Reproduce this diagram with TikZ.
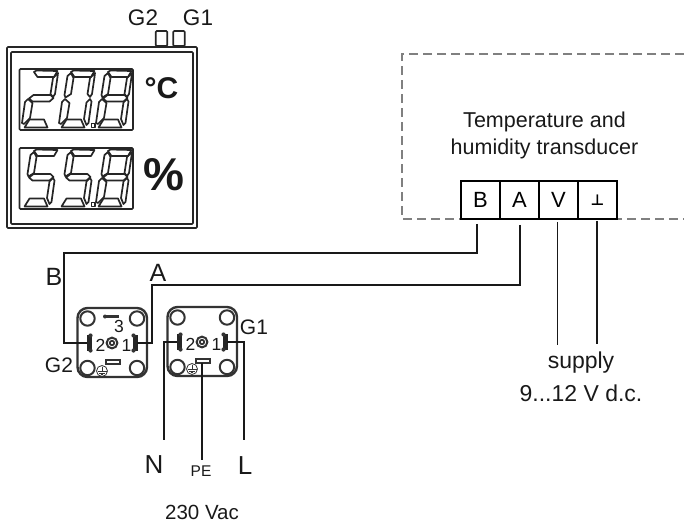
\documentclass[tikz,border=0pt]{standalone}
\usepackage{fontspec}
\setmainfont{Liberation Sans}
\newfontfamily\symbolfont{DejaVu Sans}
\newcommand{\txtsize}[1]{\fontsize{#1}{#1}\selectfont}
\tikzstyle{wire}=[line width=1.6pt,black!90]
\tikzstyle{panel}=[line width=1.6pt,black!85,rounded corners=1pt]
\tikzstyle{segline}=[line width=1.7pt,black!85,line join=round]
\tikzstyle{terminal}=[draw,line width=1.6pt,fill=white,minimum width=39pt,minimum height=38pt,inner sep=0pt,font=\txtsize{22}]
\tikzstyle{pinbar}=[draw,fill,line width=0.4pt,minimum width=4pt,minimum height=15pt,inner sep=0pt,black!85]
\tikzstyle{caption}=[inner sep=0pt,black!90]
\tikzstyle{lamp}=[draw,panel,minimum width=11.5pt,minimum height=15pt,inner sep=0pt]
% segments of one digit, coordinates from the top left corner of the display
\def\sega{(14.5,3) -- (17,1.5) -- (38,2) -- (34.5,8) -- (18,8) -- cycle}
\def\segb{(38.5,4) -- (38,8) -- (35.5,25) -- (33.5,28) -- (31,25) -- (33.5,9) -- cycle}
\def\segc{(33.5,30) -- (35,32.5) -- (32,54) -- (30,56) -- (27.5,50) -- (30,33.5) -- cycle}
\def\segd{(5,58.5) -- (10,50.5) -- (24.5,50.5) -- (28,58.5) -- cycle}
\def\sege{(8.5,30) -- (13,34) -- (10.5,49) -- (4.5,55) -- (2.5,54) -- (5.5,33) -- cycle}
\def\segf{(14.5,4) -- (17,9) -- (14.5,25) -- (9,28.5) -- (8,26) -- (11,7) -- cycle}
\def\segg{(9.5,29.5) -- (14,26) -- (31,26) -- (34,29) -- (30,32.5) -- (13,32.5) -- cycle}
\newcommand{\drawdigit}[3]{
	\foreach \s in {#3} {
		\draw[segline,shift={(#1,#2)}] \csname seg\s\endcsname;
	}
}
\newcommand{\drawconnector}[3]{
	\pgfmathsetmacro{\cx}{#2}
	\pgfmathsetmacro{\cy}{#3}
	\draw[line width=2.4pt,black!80,rounded corners=10pt] (\cx-34.5,\cy-35) rectangle (\cx+35,\cy+34);
	\foreach \dx in {-24.5,25} {
		\foreach \dy in {-24.5,25} {
			\draw[line width=2pt,black!80] (\cx+\dx,\cy+\dy) circle (7.2);
		}
	}
	\draw[line width=2pt,black!80] (\cx,\cy) circle (5.4);
	\draw[line width=1.8pt,black!80] (\cx,\cy) circle (2.2);
	\node[pinbar] (#1pintwo) at (\cx-23,\cy) {};
	\node[pinbar] (#1pinone) at (\cx+23,\cy) {};
	\foreach \px in {-21.5,21.5} {
		\foreach \py in {-7.5,7.5} {
			\fill[black!80] (\cx+\px,\cy+\py) circle (2.1);
		}
	}
	\node[caption,font=\txtsize{17.5}] at (\cx-11.5,\cy+2) {2};
	\node[caption,font=\txtsize{17.5}] at (\cx+14.5,\cy+2) {1};
}
\newcommand{\drawearth}[2]{
	\draw[line width=0.8pt,black!80] (#1,#2) circle (5.5);
	\draw[line width=0.8pt,black!80] (#1,#2-4.5) -- (#1,#2) (#1-4.5,#2) -- (#1+4.5,#2) (#1-3,#2+2) -- (#1+3,#2+2) (#1-1.2,#2+3.7) -- (#1+1.2,#2+3.7);
}
\begin{document}
\begin{tikzpicture}[x=1pt,y=-1pt]
	\useasboundingbox (0,0) rectangle (684,523);
	% front panel
	\node[lamp] (lamptwo) at (161.5,38.5) {};
	\node[lamp] (lampone) at (179,38.5) {};
	\draw[panel] (7,47) rectangle (197,228);
	\draw[panel] (11,52) rectangle (193,224);
	\draw[panel] (19.5,69) rectangle (133,130);
	\draw[panel] (19.5,148) rectangle (133,209);
	\drawdigit{19.5}{69}{a,b,g,e,d}
	\drawdigit{56.5}{69}{a,b,c,d,e,f}
	\drawdigit{93.5}{69}{a,b,c,d,e,f,g}
	\drawdigit{19.5}{148}{a,f,g,c,d}
	\drawdigit{56.5}{148}{a,f,g,c,d}
	\drawdigit{93.5}{148}{a,b,c,d,e,f,g}
	\draw[segline] (91.5,123.5) rectangle (95,127.5);
	\draw[segline] (91.5,202.5) rectangle (95,206.5);
	\node[caption,font=\txtsize{22.5}] (lamptwolabel) at (143,18) {G2};
	\node[caption,font=\txtsize{22.5}] (lamponelabel) at (198,18) {G1};
	\node[caption,font=\txtsize{30}\bfseries] (unitc) at (161.5,88) {°C};
	\node[caption,font=\txtsize{46}\bfseries] (unitrh) at (164,175) {\%};
	% transducer
	\draw[gray,line width=1.2pt,dash pattern=on 9pt off 5pt] (684,54) -| (402,219) -- (684,219);
	\node[caption,font=\txtsize{21.5}] (title) at (544.5,122) {Temperature and};
	\node[caption,font=\txtsize{21.5}] (titletwo) at (544.5,149) {humidity transducer};
	\node[terminal] (termb) at (480.5,200) {B};
	\node[terminal] (terma) at (519.5,200) {A};
	\node[terminal] (termv) at (558.5,200) {V};
	\node[terminal] (termgnd) at (597.5,200) {\raisebox{-9pt}{\symbolfont\bfseries\txtsize{15}⊥}};
	% connectors
	\drawconnector{gtwo}{112}{343}
	\drawconnector{gone}{202}{342}
	\fill[black!80] (105,314.5) rectangle (119,317.5);
	\fill[black!80] (105,316.5) circle (2);
	\node[caption,font=\txtsize{17.5}] (pinthree) at (119,326) {3};
	\draw[line width=1.5pt,black!80] (106,360) rectangle (120,364);
	\draw[line width=1.5pt,black!80] (196,359) rectangle (210,363);
	\drawearth{102}{371}
	\drawearth{192}{369}
	% wiring
	\coordinate (cornerb) at (64,253);
	\coordinate (cornera) at (152,285);
	\coordinate (endv) at (557.5,345);
	\coordinate (endgnd) at (597,344);
	\coordinate (endn) at (164,440);
	\coordinate (startpe) at (202,363);
	\coordinate (endpe) at (202,460);
	\coordinate (endl) at (244,440);
	\draw[wire] ([xshift=-3.5pt,yshift=-4pt]termb.south) |- (cornerb) |- (gtwopintwo);
	\draw[wire] ([xshift=0.5pt,yshift=-5pt]terma.south) |- (cornera) |- (gtwopinone);
	\draw[wire] ([xshift=-1pt,yshift=-2pt]termv.south) -- (endv);
	\draw[wire] ([xshift=-0.5pt,yshift=-1pt]termgnd.south) -- (endgnd);
	\draw[wire] (gonepintwo) -| (endn);
	\draw[wire] (gonepinone) -| (endl);
	\draw[wire] (startpe) -- (endpe);
	% labels
	\node[caption,font=\txtsize{25}] (labelb) at (54,277) {B};
	\node[caption,font=\txtsize{25}] (labela) at (158,273) {A};
	\node[caption,font=\txtsize{21}] (labelgtwo) at (59,365) {G2};
	\node[caption,font=\txtsize{21}] (labelgone) at (254,327) {G1};
	\node[caption,font=\txtsize{26}] (labeln) at (154,465) {N};
	\node[caption,font=\txtsize{15.5}] (labelpe) at (201,471) {PE};
	\node[caption,font=\txtsize{26}] (labell) at (245,466) {L};
	\node[caption,font=\txtsize{20.5}] (mains) at (202,512) {230 Vac};
	\node[caption,font=\txtsize{23}] (supply) at (581,363) {supply};
	\node[caption,font=\txtsize{23}] (volts) at (581,393) {9...12 V d.c.};
\end{tikzpicture}
\end{document}
